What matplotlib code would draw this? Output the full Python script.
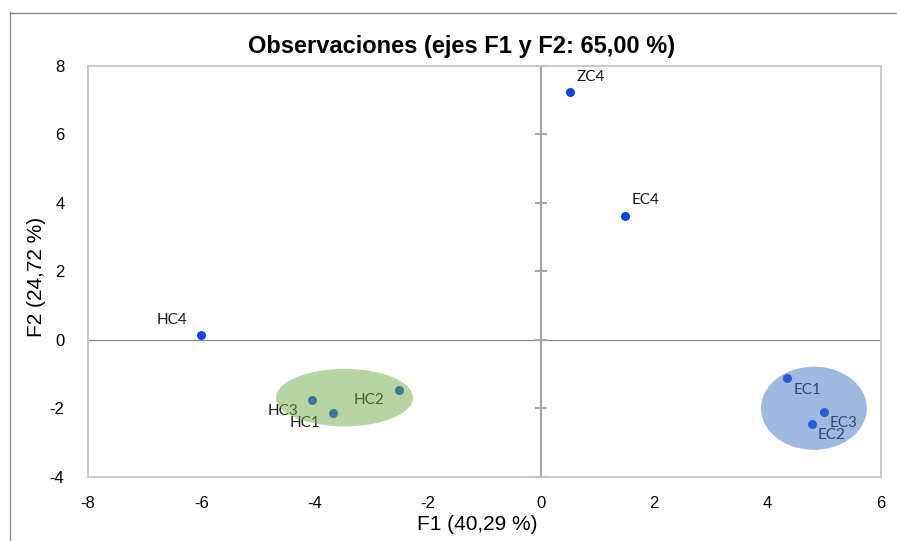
import matplotlib
matplotlib.use("Agg")
import matplotlib.pyplot as plt
from matplotlib.patches import Ellipse
from matplotlib.lines import Line2D

# ---- data ----
labels = ["ZC4", "EC4", "HC4", "HC2", "HC3", "HC1", "EC1", "EC3", "EC2"]
f1 = [0.51, 1.48, -6.00, -2.51, -4.04, -3.67, 4.35, 5.00, 4.79]
f2 = [7.24, 3.62, 0.14, -1.47, -1.76, -2.14, -1.13, -2.10, -2.45]
xticks = [-8, -6, -4, -2, 0, 2, 4, 6]
yticks = [-4, -2, 0, 2, 4, 6, 8]
title = "Observaciones (ejes F1 y F2: 65,00 %)"
xlabel = "F1 (40,29 %)"
ylabel = "F2 (24,72 %)"
# group ellipses: center x, center y, width, height
ell_green = (-3.47, -1.69, 2.42, 1.68)
ell_blue = (4.82, -2.00, 1.87, 2.43)

# label placement (pixel offsets, alignment)
offsets = {
    "ZC4": (7, 15, "left"), "EC4": (7, 16, "left"), "HC4": (-14, 15, "right"),
    "HC2": (-14, -10, "right"), "HC3": (-14, -11, "right"), "HC1": (-13, -10, "right"),
    "EC1": (6, -12, "left"), "EC3": (6, -11, "left"), "EC2": (5, -11, "left"),
}

W, H = 897, 541
fig = plt.figure(figsize=(W / 100, H / 100), dpi=100)
fig.patch.set_facecolor("white")
ax = fig.add_axes([88 / W, (H - 476.7) / H, 792.7 / W, 410.7 / H])
ax.set_xlim(-8, 6)
ax.set_ylim(-4, 8)

for s in ax.spines.values():
    s.set_color("#c6c6c6")
    s.set_linewidth(1.3)

ax.set_xticks(xticks)
ax.set_yticks(yticks)
ax.set_xticklabels([str(v) for v in xticks], fontsize=12, family="Liberation Sans")
ax.set_yticklabels([str(v) for v in yticks], fontsize=12, family="Liberation Sans")
ax.tick_params(axis="both", length=0)
ax.tick_params(axis="x", pad=14)
ax.tick_params(axis="y", pad=17)

# zero lines
ax.axhline(0, color="#878787", lw=0.9, zorder=1)
ax.axvline(0, color="#a6a6a6", lw=1.6, zorder=1)
ax.plot([0] * len(yticks), yticks, linestyle="none", marker="_", markersize=9,
        markeredgewidth=1.4, color="#a6a6a6", zorder=1, clip_on=False)

# points
ax.scatter(f1, f2, s=42, color="#0a46e6", zorder=3, linewidths=0)
for lab, x, y in zip(labels, f1, f2):
    dx, dy, ha = offsets[lab]
    ax.annotate(lab, (x, y), xytext=(dx, dy), textcoords="offset pixels",
                ha=ha, va="center", fontsize=11, family="Lato", color="#1a1a1a", zorder=3)

# ellipses (semi-transparent, above the points)
for (cx, cy, w, h), col in [(ell_green, "#70AD47"), (ell_blue, "#4472C4")]:
    ax.add_patch(Ellipse((cx, cy), w, h, facecolor=col, alpha=0.5, edgecolor="none", zorder=4))

# texts
fig.text(462 / W, 1 - 47 / H, title, ha="center", va="center", fontsize=17,
         fontweight="bold", family="Liberation Sans")
fig.text(477 / W, 1 - 524 / H, xlabel, ha="center", va="center", fontsize=15,
         family="Liberation Sans")
fig.text(37 / W, 1 - 277 / H, ylabel, ha="center", va="center", fontsize=15,
         family="Liberation Sans", rotation=90)

# outer chart frame (partially visible)
fig.add_artist(Line2D([9.5 / W, 9.5 / W], [0, 1 - 12 / H], transform=fig.transFigure,
                      color="#8c8c8c", lw=1.0))
fig.add_artist(Line2D([9.5 / W, 1], [1 - 12.5 / H, 1 - 12.5 / H], transform=fig.transFigure,
                      color="#8c8c8c", lw=1.0))

fig.savefig("out.png", dpi=100)
